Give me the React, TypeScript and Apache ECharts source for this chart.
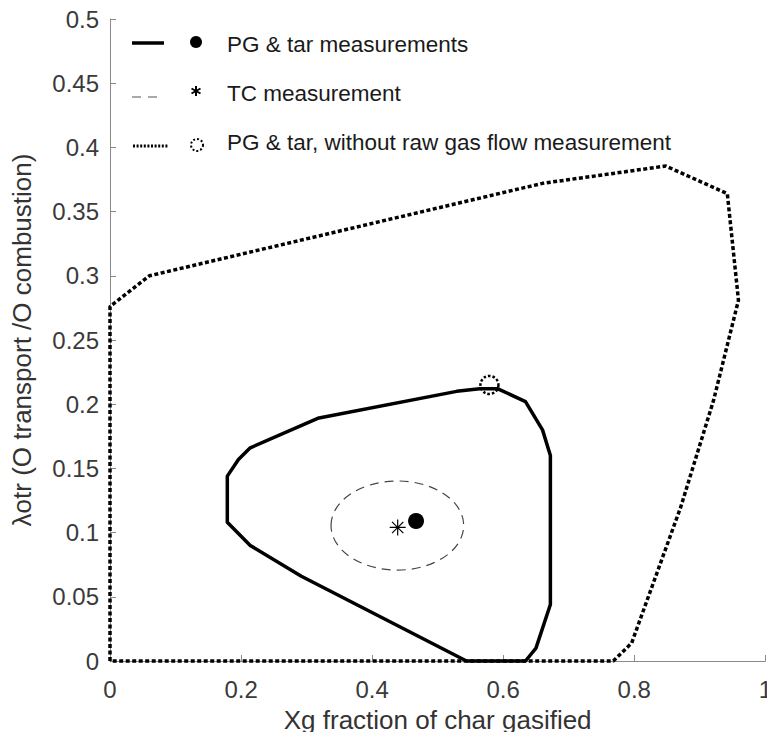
import React, { useEffect, useRef } from "react";
import * as echarts from "echarts";

// Outer region (dotted): PG & tar, without raw gas flow measurement
const outerX = [0, 0, 0.06, 0.66, 0.848, 0.942, 0.959, 0.921, 0.871, 0.796, 0.768, 0];
const outerY = [0, 0.276, 0.3, 0.372, 0.3855, 0.364, 0.281, 0.203, 0.12, 0.014, 0, 0];

// Inner region (solid): PG & tar measurements
const innerX = [0.544, 0.634, 0.65, 0.672, 0.672, 0.66, 0.634, 0.592, 0.564, 0.529, 0.317, 0.214, 0.196, 0.179, 0.179, 0.214, 0.292, 0.544];
const innerY = [0, 0, 0.01, 0.044, 0.16, 0.18, 0.202, 0.212, 0.212, 0.21, 0.189, 0.166, 0.157, 0.144, 0.108, 0.09, 0.066, 0];

// TC measurement uncertainty ellipse: [centerX, centerY, radiusX, radiusY]
const tcEllipse = [0.4385, 0.1055, 0.1012, 0.0347];

// Measurement points
const pgPoint = [0.467, 0.109];
const tcPoint = [0.439, 0.104];
const noFlowPoint = [0.579, 0.215];

const legendLabels = [
  "PG & tar measurements",
  "TC measurement",
  "PG & tar, without raw gas flow measurement",
];

const xName = "Xg fraction of char gasified";
const yName = "\u03bbotr (O transport /O combustion)";

const FONT = "'Liberation Sans', Arial, Helvetica, sans-serif";

const zip = (xs: number[], ys: number[]) => xs.map((x, i) => [x, ys[i]]);

const asteriskPath =
  "path://M8 0 L8 16 M0 8 L16 8 M2.34 2.34 L13.66 13.66 M2.34 13.66 L13.66 2.34";

export default function App() {
  const ref = useRef<HTMLDivElement>(null);

  useEffect(() => {
    if (!ref.current) return;
    const chart = echarts.init(ref.current, null, { renderer: "svg" });

    const lx0 = 132;
    const lx1 = 164;
    const mx = 196;
    const tx = 227;
    const rows = [43, 92, 141];

    const legendGraphics: any[] = [
      // row 1
      { type: "line", shape: { x1: lx0, y1: rows[0], x2: lx1, y2: rows[0] }, style: { stroke: "#000", lineWidth: 3.5 }, z: 100 },
      { type: "circle", shape: { cx: mx, cy: rows[0] - 1, r: 6 }, style: { fill: "#000" }, z: 100 },
      // row 2
      { type: "line", shape: { x1: lx0, y1: rows[1] + 5, x2: lx1, y2: rows[1] + 5 }, style: { stroke: "#555", lineWidth: 1.2, lineDash: [9, 7] }, z: 100 },
      { type: "line", shape: { x1: mx, y1: rows[1] - 6, x2: mx, y2: rows[1] + 4 }, style: { stroke: "#000", lineWidth: 2 }, z: 100 },
      { type: "line", shape: { x1: mx - 4.5, y1: rows[1] - 3.5, x2: mx + 4.5, y2: rows[1] + 1.5 }, style: { stroke: "#000", lineWidth: 2 }, z: 100 },
      { type: "line", shape: { x1: mx - 4.5, y1: rows[1] + 1.5, x2: mx + 4.5, y2: rows[1] - 3.5 }, style: { stroke: "#000", lineWidth: 2 }, z: 100 },
      // row 3
      { type: "line", shape: { x1: lx0 + 1, y1: rows[2] + 5, x2: lx1 + 4, y2: rows[2] + 5 }, style: { stroke: "#000", lineWidth: 3, lineDash: [2, 1.6] }, z: 100 },
      { type: "circle", shape: { cx: mx + 1, cy: rows[2] + 4, r: 6 }, style: { fill: "none", stroke: "#000", lineWidth: 2, lineDash: [2, 2] }, z: 100 },
    ];
    legendLabels.forEach((t, i) => {
      legendGraphics.push({
        type: "text",
        x: tx,
        y: rows[i] + 1,
        style: {
          text: t,
          font: `22.5px ${FONT}`,
          fill: "#1a1a1a",
          textVerticalAlign: "middle",
          textAlign: "left",
        },
        z: 100,
      });
    });

    const option: any = {
      animation: false,
      backgroundColor: "#fff",
      textStyle: { fontFamily: FONT },
      grid: { left: 110, right: 3, top: 19, bottom: 79, containLabel: false },
      xAxis: {
        type: "value",
        min: 0,
        max: 1,
        interval: 0.2,
        name: xName,
        nameLocation: "middle",
        nameGap: 46,
        nameTextStyle: { fontSize: 26, color: "#333", fontFamily: FONT },
        axisLine: { show: true, lineStyle: { color: "#8a8a8a", width: 1 } },
        axisTick: { show: true, inside: true, length: 6, lineStyle: { color: "#8a8a8a" } },
        axisLabel: { fontSize: 24, color: "#3a3a3a", margin: 16, fontFamily: FONT },
        splitLine: { show: false },
      },
      yAxis: {
        type: "value",
        min: 0,
        max: 0.5,
        interval: 0.05,
        name: yName,
        nameLocation: "middle",
        nameGap: 75,
        nameTextStyle: { fontSize: 26, color: "#333", fontFamily: FONT },
        axisLine: { show: true, lineStyle: { color: "#8a8a8a", width: 1 } },
        axisTick: { show: true, inside: true, length: 6, lineStyle: { color: "#8a8a8a" } },
        axisLabel: {
          fontSize: 24,
          color: "#3a3a3a",
          margin: 11,
          fontFamily: FONT,
          formatter: (v: number) => String(Math.round(v * 100) / 100),
        },
        splitLine: { show: false },
      },
      graphic: legendGraphics,
      series: [
        {
          type: "line",
          name: legendLabels[2],
          data: zip(outerX, outerY),
          showSymbol: false,
          symbol: "none",
          lineStyle: { color: "#000", width: 3.5, type: [4, 2.5] },
          z: 2,
          clip: false,
        },
        {
          type: "line",
          name: legendLabels[0],
          data: zip(innerX, innerY),
          showSymbol: false,
          symbol: "none",
          lineStyle: { color: "#000", width: 3.5, type: "solid", join: "round" },
          z: 3,
          clip: false,
        },
        {
          type: "custom",
          name: legendLabels[1],
          data: [tcEllipse],
          renderItem: (_params: any, api: any) => {
            const c = api.coord([api.value(0), api.value(1)]);
            const s = api.size([api.value(2), api.value(3)]);
            return {
              type: "ellipse",
              shape: { cx: c[0], cy: c[1], rx: s[0], ry: s[1] },
              style: { fill: "none", stroke: "#444", lineWidth: 1.2, lineDash: [9, 6] },
            };
          },
          z: 4,
        },
        {
          type: "scatter",
          data: [pgPoint],
          symbol: "circle",
          symbolSize: 16,
          itemStyle: { color: "#000", opacity: 1 },
          z: 5,
        },
        {
          type: "scatter",
          data: [tcPoint],
          symbol: asteriskPath,
          symbolSize: 16,
          itemStyle: { color: "none", borderColor: "#000", borderWidth: 1.2, opacity: 1 },
          z: 5,
        },
        {
          type: "scatter",
          data: [noFlowPoint],
          symbol: "circle",
          symbolSize: 18,
          itemStyle: { color: "none", borderColor: "#000", borderWidth: 2.5, borderType: [2.5, 2], opacity: 1 },
          z: 6,
        },
      ],
    };

    chart.setOption(option);
    return () => chart.dispose();
  }, []);

  return <div ref={ref} style={{ width: 775, height: 740, margin: -8 }} />;
}
